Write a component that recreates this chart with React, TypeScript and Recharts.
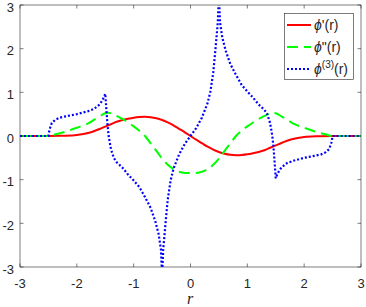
import { LineChart, Line, XAxis, YAxis, ReferenceArea } from "recharts";

const X_TICKS = [-3, -2, -1, 0, 1, 2, 3];
const Y_TICKS = [-3, -2, -1, 0, 1, 2, 3];

// phi'(r)
const PHI1: [number, number][] = [
  [-3, 0], [-2.5, 0], [-2.3, 0.003], [-2.2, 0.007], [-2.0, 0.025], [-1.8, 0.07],
  [-1.7, 0.11], [-1.6, 0.16], [-1.5, 0.215], [-1.4, 0.27], [-1.3, 0.325], [-1.2, 0.365],
  [-1.1, 0.395], [-1.0, 0.42], [-0.9, 0.435], [-0.8, 0.44], [-0.7, 0.43], [-0.6, 0.405],
  [-0.5, 0.365], [-0.4, 0.31], [-0.3, 0.245], [-0.2, 0.165], [-0.1, 0.085], [0, 0],
  [0.1, -0.085], [0.2, -0.165], [0.3, -0.245], [0.4, -0.31], [0.5, -0.365], [0.6, -0.405],
  [0.7, -0.43], [0.8, -0.44], [0.9, -0.435], [1.0, -0.42], [1.1, -0.395], [1.2, -0.365],
  [1.3, -0.325], [1.4, -0.27], [1.5, -0.215], [1.6, -0.16], [1.7, -0.11], [1.8, -0.07],
  [2.0, -0.025], [2.2, -0.007], [2.3, -0.003], [2.5, 0], [3, 0],
];

// phi''(r)
const PHI2: [number, number][] = [
  [-3, 0], [-2.5, 0], [-2.4, 0.03], [-2.3, 0.065], [-2.2, 0.1], [-2.0, 0.19], [-1.8, 0.29],
  [-1.7, 0.37], [-1.6, 0.45], [-1.5, 0.52], [-1.45, 0.535], [-1.4, 0.52], [-1.3, 0.46],
  [-1.2, 0.39], [-1.1, 0.31], [-1.0, 0.22], [-0.9, 0.12], [-0.8, 0.0], [-0.7, -0.17],
  [-0.6, -0.34], [-0.5, -0.52], [-0.4, -0.66], [-0.3, -0.76], [-0.2, -0.82], [-0.1, -0.845],
  [0, -0.85], [0.1, -0.845], [0.2, -0.82], [0.3, -0.76], [0.4, -0.66], [0.5, -0.52],
  [0.6, -0.34], [0.7, -0.17], [0.8, 0.0], [0.9, 0.12], [1.0, 0.22], [1.1, 0.31], [1.2, 0.39],
  [1.3, 0.46], [1.4, 0.52], [1.45, 0.535], [1.5, 0.52], [1.6, 0.45], [1.7, 0.37], [1.8, 0.29],
  [2.0, 0.19], [2.2, 0.1], [2.3, 0.065], [2.4, 0.03], [2.5, 0], [3, 0],
];

// phi^(3)(r)
const PHI3: [number, number][] = [
  [-3, 0], [-2.5, 0], [-2.48, 0.15], [-2.44, 0.3], [-2.38, 0.37], [-2.3, 0.42], [-2.2, 0.45],
  [-2.0, 0.5], [-1.8, 0.57], [-1.7, 0.62], [-1.6, 0.72], [-1.55, 0.82], [-1.52, 0.9],
  [-1.5, 0.97], [-1.48, 0.6], [-1.46, 0.25], [-1.44, 0.0], [-1.4, -0.3], [-1.35, -0.5],
  [-1.3, -0.6], [-1.2, -0.72], [-1.1, -0.88], [-1.0, -1.02], [-0.9, -1.17], [-0.8, -1.4],
  [-0.7, -1.65], [-0.62, -1.95], [-0.56, -2.25], [-0.52, -2.6], [-0.5, -3.2], [-0.48, -2.6],
  [-0.44, -2.0], [-0.4, -1.45], [-0.35, -1.02], [-0.3, -0.75], [-0.2, -0.42], [-0.1, -0.18],
  [0, 0], [0.1, 0.18], [0.2, 0.42], [0.3, 0.75], [0.35, 1.02], [0.4, 1.45], [0.44, 2.0],
  [0.48, 2.6], [0.5, 3.2], [0.52, 2.6], [0.56, 2.25], [0.62, 1.95], [0.7, 1.65], [0.8, 1.4],
  [0.9, 1.17], [1.0, 1.02], [1.1, 0.88], [1.2, 0.72], [1.3, 0.6], [1.35, 0.5], [1.4, 0.3],
  [1.44, 0.0], [1.46, -0.25], [1.48, -0.6], [1.5, -0.97], [1.52, -0.9], [1.55, -0.82],
  [1.6, -0.72], [1.7, -0.62], [1.8, -0.57], [2.0, -0.5], [2.2, -0.45], [2.3, -0.42],
  [2.38, -0.37], [2.44, -0.3], [2.48, -0.15], [2.5, 0], [3, 0],
];

const toRows = (pts: [number, number][]) => pts.map(([r, v]) => ({ r, v }));

const AXIS = "#262626";
const FONT = "'Liberation Sans', Arial, sans-serif";
const BOX = { left: 20, top: 5, right: 361, bottom: 267 };

const XTick = ({ x, payload }: any) => (
  <g>
    <line x1={x} x2={x} y1={BOX.bottom} y2={BOX.bottom - 3.5} stroke={AXIS} strokeWidth={0.6} />
    <line x1={x} x2={x} y1={BOX.top} y2={BOX.top + 3.5} stroke={AXIS} strokeWidth={0.6} />
    <text x={x} y={288} textAnchor="middle" fontSize={13} fontFamily={FONT} fill={AXIS}>
      {payload.value}
    </text>
  </g>
);

const YTick = ({ y, payload }: any) => (
  <g>
    <line x1={BOX.left} x2={BOX.left + 3.5} y1={y} y2={y} stroke={AXIS} strokeWidth={0.6} />
    <line x1={BOX.right} x2={BOX.right - 3.5} y1={y} y2={y} stroke={AXIS} strokeWidth={0.6} />
    <text x={14} y={y + 6.5} textAnchor="end" fontSize={13} fontFamily={FONT} fill={AXIS}>
      {payload.value}
    </text>
  </g>
);

const LegendBox = () => (
  <svg width={70} height={67} style={{ display: "block" }}>
    <rect x={0.5} y={0.5} width={69} height={66} fill="#fff" stroke={AXIS} strokeWidth={0.6} />
    <line x1={3} x2={27} y1={12} y2={12} stroke="#ff0000" strokeWidth={2} />
    <line x1={3} x2={27} y1={34} y2={34} stroke="#00ff00" strokeWidth={2} strokeDasharray="11 6" />
    <line x1={3} x2={27} y1={56} y2={56} stroke="#0000ff" strokeWidth={2.2} strokeDasharray="2 2" />
    <text x={30} y={17} fontSize={14} fontFamily={FONT} fill={AXIS}>
      <tspan fontStyle="italic">ϕ</tspan>'(r)
    </text>
    <text x={30} y={39} fontSize={14} fontFamily={FONT} fill={AXIS}>
      <tspan fontStyle="italic">ϕ</tspan>"(r)
    </text>
    <text x={30} y={61} fontSize={14} fontFamily={FONT} fill={AXIS}>
      <tspan fontStyle="italic">ϕ</tspan>
      <tspan fontSize={10} dy={-6}>(3)</tspan>
      <tspan dy={6}>(r)</tspan>
    </text>
  </svg>
);

export default function App() {
  return (
    <div style={{ position: "absolute", left: 0, top: 0, width: 366, height: 307, background: "#fff" }}>
      <LineChart width={366} height={307} margin={{ top: 5, right: 5, left: 0, bottom: 0 }}>
        <XAxis
          type="number"
          dataKey="r"
          domain={[-3, 3]}
          ticks={X_TICKS}
          allowDataOverflow
          height={40}
          tickLine={false}
          axisLine={false}
          tick={<XTick />}
          interval={0}
        />
        <YAxis
          type="number"
          domain={[-3, 3]}
          ticks={Y_TICKS}
          allowDataOverflow
          width={20}
          tickLine={false}
          axisLine={false}
          tick={<YTick />}
          interval={0}
        />
        <ReferenceArea
          x1={-3}
          x2={3}
          y1={-3}
          y2={3}
          fill="none"
          fillOpacity={0}
          stroke={AXIS}
          strokeWidth={0.6}
          strokeOpacity={1}
        />
        <Line
          data={toRows(PHI1)}
          dataKey="v"
          type="monotone"
          stroke="#ff0000"
          strokeWidth={2}
          dot={false}
          isAnimationActive={false}
        />
        <Line
          data={toRows(PHI2)}
          dataKey="v"
          type="monotone"
          stroke="#00ff00"
          strokeWidth={2}
          strokeDasharray="11 6"
          dot={false}
          isAnimationActive={false}
        />
        <Line
          data={toRows(PHI3)}
          dataKey="v"
          type="linear"
          stroke="#0000ff"
          strokeWidth={2.2}
          strokeDasharray="2 2"
          dot={false}
          isAnimationActive={false}
        />
        <text x={190} y={304} textAnchor="middle" fontSize={16} fontStyle="italic" fontFamily="'Liberation Serif', 'Times New Roman', serif" fill={AXIS}>
          r
        </text>
      </LineChart>
      <div style={{ position: "absolute", left: 284, top: 13 }}>
        <LegendBox />
      </div>
    </div>
  );
}
